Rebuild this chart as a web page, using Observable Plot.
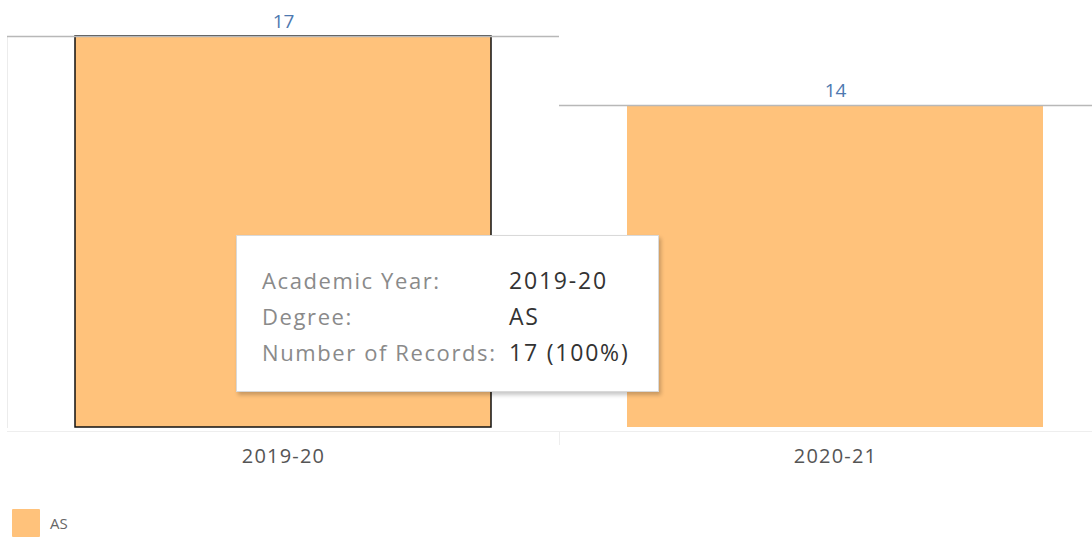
<!DOCTYPE html>
<html>
<head>
<meta charset="utf-8">
<script src="https://cdn.jsdelivr.net/npm/d3@7"></script>
<script src="https://cdn.jsdelivr.net/npm/@observablehq/plot@0.6"></script>
<style>
  body { margin: 0; background: #fff; font-family: "Open Sans", "Lato", sans-serif; }
  #wrap { position: relative; width: 1092px; height: 545px; overflow: hidden; }
  #tooltip {
    position: absolute; left: 236px; top: 235px; width: 423px; height: 157px;
    box-sizing: border-box; background: #fff; border: 1px solid #d9d9d9;
    box-shadow: 2px 3px 4px rgba(0,0,0,0.22);
    padding: 26px 0 0 25px; font-size: 22px; line-height: 36px; color: #333;
  }
  #tooltip .row { display: flex; white-space: nowrap; }
  #tooltip .k { color: #8a8a8a; width: 247px; letter-spacing: 1.6px; }
  #tooltip .v { color: #333; font-size: 23px; letter-spacing: 1.8px; }
  #legend { position: absolute; left: 12px; top: 509px; display: flex; align-items: center; font-size: 15px; color: #666; }
  #legend .sw { width: 28px; height: 28px; margin-right: 10px; border-radius: 1px; }
  g[aria-label="x-axis tick label"] text { letter-spacing: 1.2px; }
</style>
</head>
<body>
<div id="wrap">
  <div id="chart"></div>
  <div id="tooltip"></div>
  <div id="legend"></div>
</div>
<script>
const years = ["2019-20", "2020-21"];
const records = [17, 14];
const degree = "AS";
const barColor = "#ffc27b";
const tooltipKeys = ["Academic Year:", "Degree:", "Number of Records:"];

const data = years.map((y, i) => ({year: y, value: records[i], degree}));
const total0 = d3.sum(data.filter(d => d.year === years[0]), d => d.value);

const chart = Plot.plot({
  width: 1092,
  height: 480,
  marginTop: 36,
  marginBottom: 53,
  marginLeft: 7,
  marginRight: 0,
  style: {fontFamily: "Open Sans, Lato, sans-serif", fontSize: "20px", color: "#555", background: "#fff"},
  x: {domain: years, range: [7, 1111], paddingInner: 0.2464, paddingOuter: 0.1232, label: null},
  y: {domain: [0, 17], axis: null},
  marks: [
    Plot.frame({anchor: "left", stroke: "#ececec"}),
    Plot.ruleY([0], {stroke: "#eeeeee", dy: 4}),
    Plot.ruleX([years[1]], {x: d => d, y1: 0, y2: 0, dx: -276, insetTop: 4, insetBottom: -18, stroke: "#eeeeee"}),
    Plot.barY(data, {x: "year", y: "value", fill: barColor}),
    Plot.barY(data.filter(d => d.year === years[0]), {x: "year", y: "value", fill: "none", stroke: "#111", strokeWidth: 1.5}),
    Plot.tickY(data, {x: "year", y: "value", stroke: "#b8b8b8", strokeWidth: 1.3, insetLeft: -68, insetRight: -68}),
    Plot.text(data, {x: "year", y: "value", text: d => String(d.value), dy: -15, fill: "#4e79b0", fontSize: 19}),
    Plot.axisX({tickSize: 0, tickPadding: 21, fontSize: 20, fill: "#555", label: null})
  ]
});
document.getElementById("chart").appendChild(chart);

const d0 = data[0];
const vals = [d0.year, d0.degree, `${d0.value} (${Math.round(100 * d0.value / total0)}%)`];
document.getElementById("tooltip").innerHTML = tooltipKeys.map((k, i) =>
  `<div class="row"><span class="k">${k}</span><span class="v">${vals[i]}</span></div>`).join("");

document.getElementById("legend").innerHTML =
  `<div class="sw" style="background:${barColor}"></div><span>${degree}</span>`;
</script>
</body>
</html>
